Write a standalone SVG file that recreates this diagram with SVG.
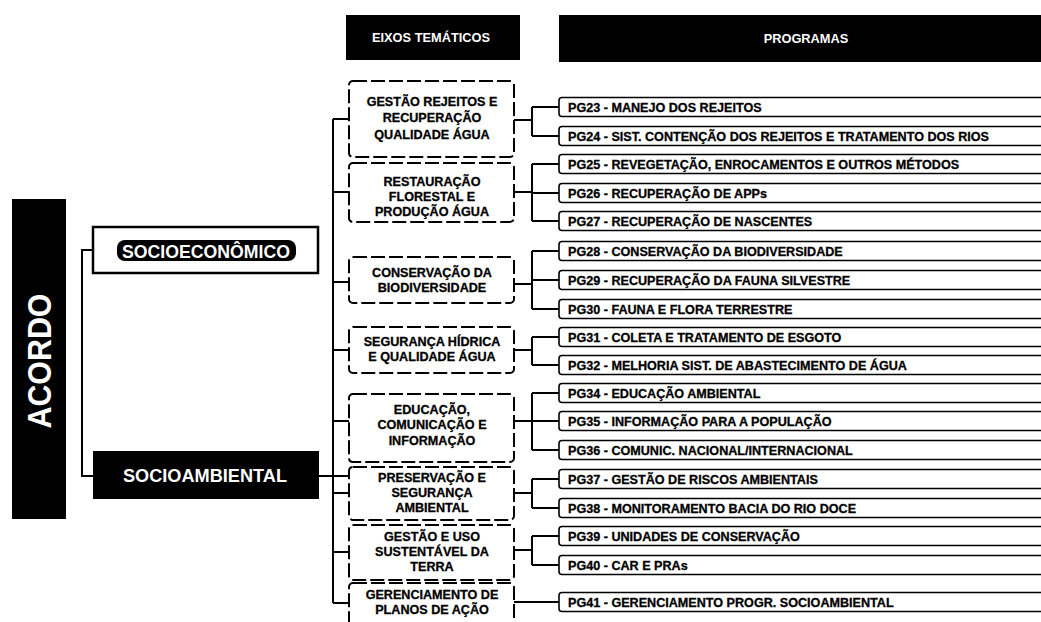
<svg xmlns="http://www.w3.org/2000/svg" width="1041" height="622" viewBox="0 0 1041 622">
<style>
.bg{fill:#fff}
.blk{fill:#000}
.theme{fill:#fff;stroke:#000;stroke-width:2;stroke-dasharray:14 4}
.prog{fill:#fff;stroke:#000;stroke-width:1.6}
.ln{fill:none;stroke:#000;stroke-width:2}
.tt{font-family:"Liberation Sans",Arial,sans-serif;font-weight:bold;font-size:12.6px;fill:#000;stroke:#000;stroke-width:0.3;text-anchor:middle}
.pt{font-family:"Liberation Sans",Arial,sans-serif;font-weight:bold;font-size:12.6px;fill:#000;stroke:#000;stroke-width:0.3}
.wt{font-family:"Liberation Sans",Arial,sans-serif;font-weight:bold;fill:#fff;text-anchor:middle}
</style>
<rect class="bg" x="0" y="0" width="1041" height="622"/>
<g id="connectors">
<path class="ln" d="M93 250H82V476H93"/>
<path class="ln" d="M319 476H350M333 119V603M333 119H349M333 192H349M333 282H349M333 350H349M333 421H349M333 493H349M333 552H349M333 603H349"/>
<path class="ln" d="M514 120H532M532 107V136M532 107H559M532 136H559"/>
<path class="ln" d="M514 192H532M532 164V221M532 164H559M532 193H559M532 221H559"/>
<path class="ln" d="M514 284H532M532 251V309M532 251H559M532 280H559M532 309H559"/>
<path class="ln" d="M514 350H532M532 337V365M532 337H559M532 365H559"/>
<path class="ln" d="M514 421H532M532 393V450M532 393H559M532 421H559M532 450H559"/>
<path class="ln" d="M514 493H532M532 479V508M532 479H559M532 508H559"/>
<path class="ln" d="M514 550H532M532 536V565M532 536H559M532 565H559"/>
<path class="ln" d="M514 602H559"/>
</g>
<g id="acordo">
<rect class="blk" x="12" y="199" width="54" height="320"/>
<text class="wt" font-size="34" transform="translate(51,361) rotate(-90)" textLength="135" lengthAdjust="spacingAndGlyphs">ACORDO</text>
</g>
<g id="socioeconomico">
<rect x="93" y="227" width="225" height="46" fill="#fff" stroke="#000" stroke-width="2.5"/>
<rect class="blk" x="117" y="240" width="179" height="21" rx="8"/>
<text class="wt" font-size="18" x="206" y="258" textLength="168" lengthAdjust="spacingAndGlyphs">SOCIOECONÔMICO</text>
</g>
<g id="socioambiental">
<rect class="blk" x="93" y="451" width="226" height="48"/>
<text class="wt" font-size="18" x="205" y="482" textLength="164" lengthAdjust="spacingAndGlyphs">SOCIOAMBIENTAL</text>
</g>
<g id="hdr-eixos">
<rect class="blk" x="346" y="15" width="174" height="45"/>
<text class="wt" font-size="12.8" x="431" y="42">EIXOS TEMÁTICOS</text>
</g>
<g id="hdr-programas">
<rect class="blk" x="559" y="15" width="490" height="47"/>
<text class="wt" font-size="12.8" x="806" y="43">PROGRAMAS</text>
</g>
<g id="t1"><rect class="theme" x="349" y="81" width="165" height="76" rx="4"/>
<text class="tt" x="432" y="106">GESTÃO  REJEITOS E</text><text class="tt" x="432" y="122">RECUPERAÇÃO</text><text class="tt" x="432" y="139">QUALIDADE ÁGUA</text></g>
<g id="t2"><rect class="theme" x="349" y="163" width="165" height="59" rx="4"/>
<text class="tt" x="432" y="186">RESTAURAÇÃO</text><text class="tt" x="432" y="201">FLORESTAL E</text><text class="tt" x="432" y="216">PRODUÇÃO ÁGUA</text></g>
<g id="t3"><rect class="theme" x="349" y="257" width="165" height="46" rx="4"/>
<text class="tt" x="432" y="277">CONSERVAÇÃO DA</text><text class="tt" x="432" y="292">BIODIVERSIDADE</text></g>
<g id="t4"><rect class="theme" x="349" y="327" width="165" height="46" rx="4"/>
<text class="tt" x="432" y="346">SEGURANÇA HÍDRICA</text><text class="tt" x="432" y="361">E QUALIDADE ÁGUA</text></g>
<g id="t5"><rect class="theme" x="349" y="394" width="165" height="68" rx="4"/>
<text class="tt" x="432" y="414">EDUCAÇÃO,</text><text class="tt" x="432" y="429">COMUNICAÇÃO E</text><text class="tt" x="432" y="445">INFORMAÇÃO</text></g>
<g id="t6"><rect class="theme" x="349" y="467" width="165" height="53" rx="4"/>
<text class="tt" x="432" y="482">PRESERVAÇÃO E</text><text class="tt" x="432" y="497">SEGURANÇA</text><text class="tt" x="432" y="512">AMBIENTAL</text></g>
<g id="t7"><rect class="theme" x="349" y="525" width="165" height="55" rx="4"/>
<text class="tt" x="432" y="541">GESTÃO E USO</text><text class="tt" x="432" y="556">SUSTENTÁVEL DA</text><text class="tt" x="432" y="571">TERRA</text></g>
<g id="t8"><rect class="theme" x="349" y="583" width="165" height="50" rx="4"/>
<text class="tt" x="432" y="599">GERENCIAMENTO DE</text><text class="tt" x="432" y="614">PLANOS DE AÇÃO</text></g>
<g id="pg23"><rect class="prog" x="559" y="97.5" width="495" height="19" rx="3"/><text class="pt" x="568" y="111.5">PG23 - MANEJO DOS REJEITOS</text></g>
<g id="pg24"><rect class="prog" x="559" y="126.5" width="495" height="19" rx="3"/><text class="pt" x="568" y="140.5">PG24 - SIST. CONTENÇÃO DOS REJEITOS E TRATAMENTO DOS RIOS</text></g>
<g id="pg25"><rect class="prog" x="559" y="154.5" width="495" height="19" rx="3"/><text class="pt" x="568" y="168.5">PG25 - REVEGETAÇÃO, ENROCAMENTOS E OUTROS MÉTODOS</text></g>
<g id="pg26"><rect class="prog" x="559" y="183.5" width="495" height="19" rx="3"/><text class="pt" x="568" y="197.5">PG26 - RECUPERAÇÃO DE APPs</text></g>
<g id="pg27"><rect class="prog" x="559" y="211.5" width="495" height="19" rx="3"/><text class="pt" x="568" y="225.5">PG27 - RECUPERAÇÃO DE NASCENTES</text></g>
<g id="pg28"><rect class="prog" x="559" y="241.5" width="495" height="19" rx="3"/><text class="pt" x="568" y="255.5">PG28 - CONSERVAÇÃO DA BIODIVERSIDADE</text></g>
<g id="pg29"><rect class="prog" x="559" y="270.5" width="495" height="19" rx="3"/><text class="pt" x="568" y="284.5">PG29 - RECUPERAÇÃO DA FAUNA SILVESTRE</text></g>
<g id="pg30"><rect class="prog" x="559" y="299.5" width="495" height="19" rx="3"/><text class="pt" x="568" y="313.5">PG30 - FAUNA E FLORA TERRESTRE</text></g>
<g id="pg31"><rect class="prog" x="559" y="327.5" width="495" height="19" rx="3"/><text class="pt" x="568" y="341.5">PG31 - COLETA E TRATAMENTO DE ESGOTO</text></g>
<g id="pg32"><rect class="prog" x="559" y="355.5" width="495" height="19" rx="3"/><text class="pt" x="568" y="369.5">PG32 - MELHORIA SIST. DE ABASTECIMENTO DE ÁGUA</text></g>
<g id="pg34"><rect class="prog" x="559" y="383.5" width="495" height="19" rx="3"/><text class="pt" x="568" y="397.5">PG34 - EDUCAÇÃO AMBIENTAL</text></g>
<g id="pg35"><rect class="prog" x="559" y="411.5" width="495" height="19" rx="3"/><text class="pt" x="568" y="425.5">PG35 - INFORMAÇÃO PARA A POPULAÇÃO</text></g>
<g id="pg36"><rect class="prog" x="559" y="440.5" width="495" height="19" rx="3"/><text class="pt" x="568" y="454.5">PG36 - COMUNIC. NACIONAL/INTERNACIONAL</text></g>
<g id="pg37"><rect class="prog" x="559" y="469.5" width="495" height="19" rx="3"/><text class="pt" x="568" y="483.5">PG37 - GESTÃO DE RISCOS AMBIENTAIS</text></g>
<g id="pg38"><rect class="prog" x="559" y="498.5" width="495" height="19" rx="3"/><text class="pt" x="568" y="512.5">PG38 - MONITORAMENTO BACIA DO RIO DOCE</text></g>
<g id="pg39"><rect class="prog" x="559" y="526.5" width="495" height="19" rx="3"/><text class="pt" x="568" y="540.5">PG39 - UNIDADES DE CONSERVAÇÃO</text></g>
<g id="pg40"><rect class="prog" x="559" y="555.5" width="495" height="19" rx="3"/><text class="pt" x="568" y="569.5">PG40 - CAR E PRAs</text></g>
<g id="pg41"><rect class="prog" x="559" y="592.5" width="495" height="19" rx="3"/><text class="pt" x="568" y="606.5">PG41 - GERENCIAMENTO PROGR. SOCIOAMBIENTAL</text></g>
</svg>
